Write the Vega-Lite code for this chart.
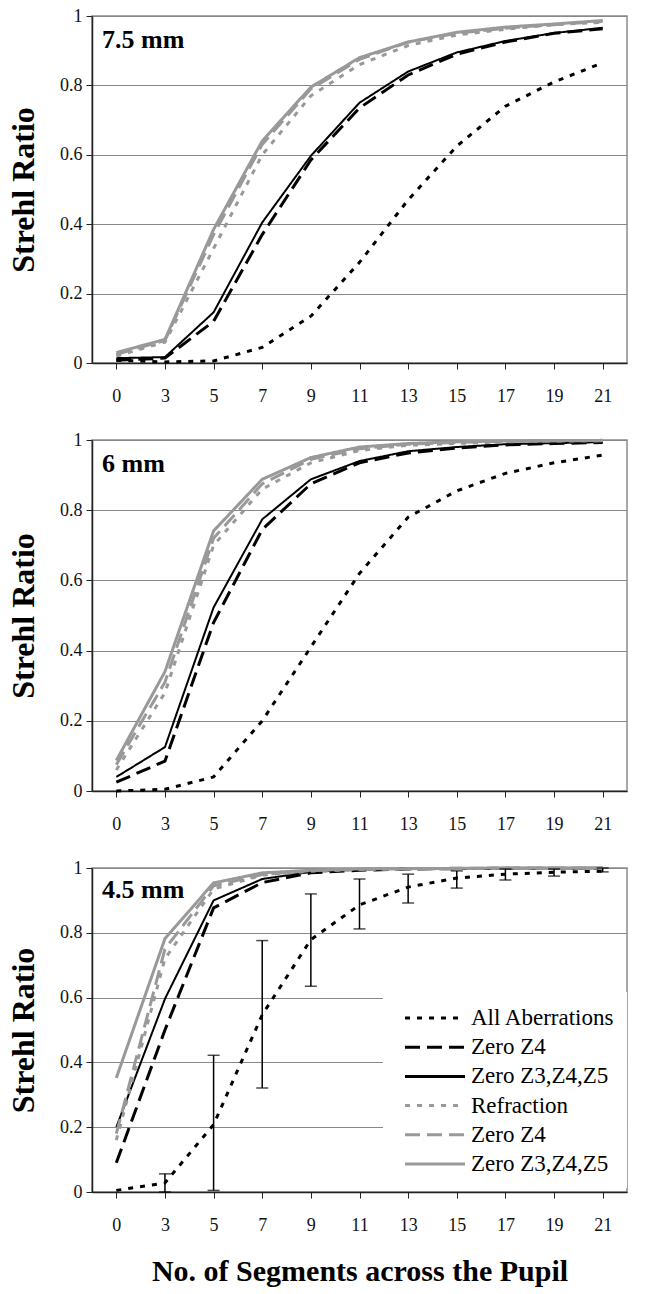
{
"$schema": "https://vega.github.io/schema/vega-lite/v6.json",
"background": "white",
"padding": {"left": 6, "top": 6, "right": 5, "bottom": 4},
"spacing": 24,
"datasets": {
"lines": [
{"p":"7.5","s":"All Aberrations","x":0,"y":0.008},{"p":"7.5","s":"All Aberrations","x":3,"y":0.003},{"p":"7.5","s":"All Aberrations","x":5,"y":0.006},{"p":"7.5","s":"All Aberrations","x":7,"y":0.045},{"p":"7.5","s":"All Aberrations","x":9,"y":0.135},{"p":"7.5","s":"All Aberrations","x":11,"y":0.29},{"p":"7.5","s":"All Aberrations","x":13,"y":0.47},{"p":"7.5","s":"All Aberrations","x":15,"y":0.625},{"p":"7.5","s":"All Aberrations","x":17,"y":0.74},{"p":"7.5","s":"All Aberrations","x":19,"y":0.81},{"p":"7.5","s":"All Aberrations","x":21,"y":0.865},
{"p":"7.5","s":"Zero Z4","x":0,"y":0.008},{"p":"7.5","s":"Zero Z4","x":3,"y":0.014},{"p":"7.5","s":"Zero Z4","x":5,"y":0.12},{"p":"7.5","s":"Zero Z4","x":7,"y":0.37},{"p":"7.5","s":"Zero Z4","x":9,"y":0.585},{"p":"7.5","s":"Zero Z4","x":11,"y":0.735},{"p":"7.5","s":"Zero Z4","x":13,"y":0.83},{"p":"7.5","s":"Zero Z4","x":15,"y":0.89},{"p":"7.5","s":"Zero Z4","x":17,"y":0.925},{"p":"7.5","s":"Zero Z4","x":19,"y":0.95},{"p":"7.5","s":"Zero Z4","x":21,"y":0.963},
{"p":"7.5","s":"Zero Z3,Z4,Z5","x":0,"y":0.014},{"p":"7.5","s":"Zero Z3,Z4,Z5","x":3,"y":0.017},{"p":"7.5","s":"Zero Z3,Z4,Z5","x":5,"y":0.146},{"p":"7.5","s":"Zero Z3,Z4,Z5","x":7,"y":0.405},{"p":"7.5","s":"Zero Z3,Z4,Z5","x":9,"y":0.597},{"p":"7.5","s":"Zero Z3,Z4,Z5","x":11,"y":0.75},{"p":"7.5","s":"Zero Z3,Z4,Z5","x":13,"y":0.84},{"p":"7.5","s":"Zero Z3,Z4,Z5","x":15,"y":0.895},{"p":"7.5","s":"Zero Z3,Z4,Z5","x":17,"y":0.928},{"p":"7.5","s":"Zero Z3,Z4,Z5","x":19,"y":0.951},{"p":"7.5","s":"Zero Z3,Z4,Z5","x":21,"y":0.966},
{"p":"7.5","s":"Refraction","x":0,"y":0.02},{"p":"7.5","s":"Refraction","x":3,"y":0.06},{"p":"7.5","s":"Refraction","x":5,"y":0.33},{"p":"7.5","s":"Refraction","x":7,"y":0.6},{"p":"7.5","s":"Refraction","x":9,"y":0.77},{"p":"7.5","s":"Refraction","x":11,"y":0.86},{"p":"7.5","s":"Refraction","x":13,"y":0.915},{"p":"7.5","s":"Refraction","x":15,"y":0.945},{"p":"7.5","s":"Refraction","x":17,"y":0.962},{"p":"7.5","s":"Refraction","x":19,"y":0.975},{"p":"7.5","s":"Refraction","x":21,"y":0.982},
{"p":"7.5","s":"Refraction Zero Z4","x":0,"y":0.025},{"p":"7.5","s":"Refraction Zero Z4","x":3,"y":0.065},{"p":"7.5","s":"Refraction Zero Z4","x":5,"y":0.37},{"p":"7.5","s":"Refraction Zero Z4","x":7,"y":0.63},{"p":"7.5","s":"Refraction Zero Z4","x":9,"y":0.79},{"p":"7.5","s":"Refraction Zero Z4","x":11,"y":0.875},{"p":"7.5","s":"Refraction Zero Z4","x":13,"y":0.925},{"p":"7.5","s":"Refraction Zero Z4","x":15,"y":0.95},{"p":"7.5","s":"Refraction Zero Z4","x":17,"y":0.965},{"p":"7.5","s":"Refraction Zero Z4","x":19,"y":0.975},{"p":"7.5","s":"Refraction Zero Z4","x":21,"y":0.985},
{"p":"7.5","s":"Refraction Zero Z3,Z4,Z5","x":0,"y":0.03},{"p":"7.5","s":"Refraction Zero Z3,Z4,Z5","x":3,"y":0.068},{"p":"7.5","s":"Refraction Zero Z3,Z4,Z5","x":5,"y":0.385},{"p":"7.5","s":"Refraction Zero Z3,Z4,Z5","x":7,"y":0.64},{"p":"7.5","s":"Refraction Zero Z3,Z4,Z5","x":9,"y":0.795},{"p":"7.5","s":"Refraction Zero Z3,Z4,Z5","x":11,"y":0.88},{"p":"7.5","s":"Refraction Zero Z3,Z4,Z5","x":13,"y":0.925},{"p":"7.5","s":"Refraction Zero Z3,Z4,Z5","x":15,"y":0.953},{"p":"7.5","s":"Refraction Zero Z3,Z4,Z5","x":17,"y":0.968},{"p":"7.5","s":"Refraction Zero Z3,Z4,Z5","x":19,"y":0.977},{"p":"7.5","s":"Refraction Zero Z3,Z4,Z5","x":21,"y":0.987},

{"p":"6","s":"All Aberrations","x":0,"y":0.0},{"p":"6","s":"All Aberrations","x":3,"y":0.005},{"p":"6","s":"All Aberrations","x":5,"y":0.04},{"p":"6","s":"All Aberrations","x":7,"y":0.2},{"p":"6","s":"All Aberrations","x":9,"y":0.41},{"p":"6","s":"All Aberrations","x":11,"y":0.62},{"p":"6","s":"All Aberrations","x":13,"y":0.78},{"p":"6","s":"All Aberrations","x":15,"y":0.855},{"p":"6","s":"All Aberrations","x":17,"y":0.905},{"p":"6","s":"All Aberrations","x":19,"y":0.935},{"p":"6","s":"All Aberrations","x":21,"y":0.957},
{"p":"6","s":"Zero Z4","x":0,"y":0.025},{"p":"6","s":"Zero Z4","x":3,"y":0.085},{"p":"6","s":"Zero Z4","x":5,"y":0.48},{"p":"6","s":"Zero Z4","x":7,"y":0.745},{"p":"6","s":"Zero Z4","x":9,"y":0.875},{"p":"6","s":"Zero Z4","x":11,"y":0.935},{"p":"6","s":"Zero Z4","x":13,"y":0.963},{"p":"6","s":"Zero Z4","x":15,"y":0.977},{"p":"6","s":"Zero Z4","x":17,"y":0.986},{"p":"6","s":"Zero Z4","x":19,"y":0.99},{"p":"6","s":"Zero Z4","x":21,"y":0.993},
{"p":"6","s":"Zero Z3,Z4,Z5","x":0,"y":0.04},{"p":"6","s":"Zero Z3,Z4,Z5","x":3,"y":0.125},{"p":"6","s":"Zero Z3,Z4,Z5","x":5,"y":0.523},{"p":"6","s":"Zero Z3,Z4,Z5","x":7,"y":0.774},{"p":"6","s":"Zero Z3,Z4,Z5","x":9,"y":0.888},{"p":"6","s":"Zero Z3,Z4,Z5","x":11,"y":0.94},{"p":"6","s":"Zero Z3,Z4,Z5","x":13,"y":0.968},{"p":"6","s":"Zero Z3,Z4,Z5","x":15,"y":0.98},{"p":"6","s":"Zero Z3,Z4,Z5","x":17,"y":0.988},{"p":"6","s":"Zero Z3,Z4,Z5","x":19,"y":0.991},{"p":"6","s":"Zero Z3,Z4,Z5","x":21,"y":0.994},
{"p":"6","s":"Refraction","x":0,"y":0.06},{"p":"6","s":"Refraction","x":3,"y":0.28},{"p":"6","s":"Refraction","x":5,"y":0.7},{"p":"6","s":"Refraction","x":7,"y":0.86},{"p":"6","s":"Refraction","x":9,"y":0.935},{"p":"6","s":"Refraction","x":11,"y":0.97},{"p":"6","s":"Refraction","x":13,"y":0.985},{"p":"6","s":"Refraction","x":15,"y":0.99},{"p":"6","s":"Refraction","x":17,"y":0.995},{"p":"6","s":"Refraction","x":19,"y":0.997},{"p":"6","s":"Refraction","x":21,"y":0.998},
{"p":"6","s":"Refraction Zero Z4","x":0,"y":0.075},{"p":"6","s":"Refraction Zero Z4","x":3,"y":0.31},{"p":"6","s":"Refraction Zero Z4","x":5,"y":0.72},{"p":"6","s":"Refraction Zero Z4","x":7,"y":0.875},{"p":"6","s":"Refraction Zero Z4","x":9,"y":0.945},{"p":"6","s":"Refraction Zero Z4","x":11,"y":0.975},{"p":"6","s":"Refraction Zero Z4","x":13,"y":0.988},{"p":"6","s":"Refraction Zero Z4","x":15,"y":0.993},{"p":"6","s":"Refraction Zero Z4","x":17,"y":0.996},{"p":"6","s":"Refraction Zero Z4","x":19,"y":0.998},{"p":"6","s":"Refraction Zero Z4","x":21,"y":0.998},
{"p":"6","s":"Refraction Zero Z3,Z4,Z5","x":0,"y":0.087},{"p":"6","s":"Refraction Zero Z3,Z4,Z5","x":3,"y":0.34},{"p":"6","s":"Refraction Zero Z3,Z4,Z5","x":5,"y":0.741},{"p":"6","s":"Refraction Zero Z3,Z4,Z5","x":7,"y":0.888},{"p":"6","s":"Refraction Zero Z3,Z4,Z5","x":9,"y":0.95},{"p":"6","s":"Refraction Zero Z3,Z4,Z5","x":11,"y":0.98},{"p":"6","s":"Refraction Zero Z3,Z4,Z5","x":13,"y":0.99},{"p":"6","s":"Refraction Zero Z3,Z4,Z5","x":15,"y":0.995},{"p":"6","s":"Refraction Zero Z3,Z4,Z5","x":17,"y":0.997},{"p":"6","s":"Refraction Zero Z3,Z4,Z5","x":19,"y":0.998},{"p":"6","s":"Refraction Zero Z3,Z4,Z5","x":21,"y":0.999},

{"p":"4.5","s":"All Aberrations","x":0,"y":0.005},{"p":"4.5","s":"All Aberrations","x":3,"y":0.028},{"p":"4.5","s":"All Aberrations","x":5,"y":0.208},{"p":"4.5","s":"All Aberrations","x":7,"y":0.547},{"p":"4.5","s":"All Aberrations","x":9,"y":0.779},{"p":"4.5","s":"All Aberrations","x":11,"y":0.886},{"p":"4.5","s":"All Aberrations","x":13,"y":0.941},{"p":"4.5","s":"All Aberrations","x":15,"y":0.969},{"p":"4.5","s":"All Aberrations","x":17,"y":0.981},{"p":"4.5","s":"All Aberrations","x":19,"y":0.987},{"p":"4.5","s":"All Aberrations","x":21,"y":0.99},
{"p":"4.5","s":"Zero Z4","x":0,"y":0.09},{"p":"4.5","s":"Zero Z4","x":3,"y":0.5},{"p":"4.5","s":"Zero Z4","x":5,"y":0.877},{"p":"4.5","s":"Zero Z4","x":7,"y":0.955},{"p":"4.5","s":"Zero Z4","x":9,"y":0.985},{"p":"4.5","s":"Zero Z4","x":11,"y":0.993},{"p":"4.5","s":"Zero Z4","x":13,"y":0.997},{"p":"4.5","s":"Zero Z4","x":15,"y":0.998},{"p":"4.5","s":"Zero Z4","x":17,"y":0.999},{"p":"4.5","s":"Zero Z4","x":19,"y":0.999},{"p":"4.5","s":"Zero Z4","x":21,"y":0.999},
{"p":"4.5","s":"Zero Z3,Z4,Z5","x":0,"y":0.2},{"p":"4.5","s":"Zero Z3,Z4,Z5","x":3,"y":0.596},{"p":"4.5","s":"Zero Z3,Z4,Z5","x":5,"y":0.9},{"p":"4.5","s":"Zero Z3,Z4,Z5","x":7,"y":0.966},{"p":"4.5","s":"Zero Z3,Z4,Z5","x":9,"y":0.988},{"p":"4.5","s":"Zero Z3,Z4,Z5","x":11,"y":0.995},{"p":"4.5","s":"Zero Z3,Z4,Z5","x":13,"y":0.998},{"p":"4.5","s":"Zero Z3,Z4,Z5","x":15,"y":0.999},{"p":"4.5","s":"Zero Z3,Z4,Z5","x":17,"y":0.999},{"p":"4.5","s":"Zero Z3,Z4,Z5","x":19,"y":0.999},{"p":"4.5","s":"Zero Z3,Z4,Z5","x":21,"y":1.0},
{"p":"4.5","s":"Refraction","x":0,"y":0.16},{"p":"4.5","s":"Refraction","x":3,"y":0.72},{"p":"4.5","s":"Refraction","x":5,"y":0.935},{"p":"4.5","s":"Refraction","x":7,"y":0.978},{"p":"4.5","s":"Refraction","x":9,"y":0.99},{"p":"4.5","s":"Refraction","x":11,"y":0.995},{"p":"4.5","s":"Refraction","x":13,"y":0.997},{"p":"4.5","s":"Refraction","x":15,"y":0.998},{"p":"4.5","s":"Refraction","x":17,"y":0.999},{"p":"4.5","s":"Refraction","x":19,"y":0.999},{"p":"4.5","s":"Refraction","x":21,"y":0.999},
{"p":"4.5","s":"Refraction Zero Z4","x":0,"y":0.18},{"p":"4.5","s":"Refraction Zero Z4","x":3,"y":0.75},{"p":"4.5","s":"Refraction Zero Z4","x":5,"y":0.945},{"p":"4.5","s":"Refraction Zero Z4","x":7,"y":0.98},{"p":"4.5","s":"Refraction Zero Z4","x":9,"y":0.992},{"p":"4.5","s":"Refraction Zero Z4","x":11,"y":0.996},{"p":"4.5","s":"Refraction Zero Z4","x":13,"y":0.998},{"p":"4.5","s":"Refraction Zero Z4","x":15,"y":0.999},{"p":"4.5","s":"Refraction Zero Z4","x":17,"y":0.999},{"p":"4.5","s":"Refraction Zero Z4","x":19,"y":0.999},{"p":"4.5","s":"Refraction Zero Z4","x":21,"y":1.0},
{"p":"4.5","s":"Refraction Zero Z3,Z4,Z5","x":0,"y":0.352},{"p":"4.5","s":"Refraction Zero Z3,Z4,Z5","x":3,"y":0.782},{"p":"4.5","s":"Refraction Zero Z3,Z4,Z5","x":5,"y":0.954},{"p":"4.5","s":"Refraction Zero Z3,Z4,Z5","x":7,"y":0.985},{"p":"4.5","s":"Refraction Zero Z3,Z4,Z5","x":9,"y":0.993},{"p":"4.5","s":"Refraction Zero Z3,Z4,Z5","x":11,"y":0.997},{"p":"4.5","s":"Refraction Zero Z3,Z4,Z5","x":13,"y":0.998},{"p":"4.5","s":"Refraction Zero Z3,Z4,Z5","x":15,"y":0.999},{"p":"4.5","s":"Refraction Zero Z3,Z4,Z5","x":17,"y":1.0},{"p":"4.5","s":"Refraction Zero Z3,Z4,Z5","x":19,"y":1.0},{"p":"4.5","s":"Refraction Zero Z3,Z4,Z5","x":21,"y":1.0}
],
"err": [
{"x":3,"lo":0.0,"hi":0.056},{"x":5,"lo":0.005,"hi":0.422},{"x":7,"lo":0.321,"hi":0.776},{"x":9,"lo":0.635,"hi":0.92},{"x":11,"lo":0.812,"hi":0.966},{"x":13,"lo":0.892,"hi":0.981},{"x":15,"lo":0.938,"hi":0.991},{"x":17,"lo":0.963,"hi":0.997},{"x":19,"lo":0.975,"hi":0.997},{"x":21,"lo":0.988,"hi":1.0}
]
},
"resolve": {"scale": {"color": "independent", "strokeDash": "independent"}, "legend": {"color": "independent", "strokeDash": "independent"}},
"vconcat": [
{
"width": 535, "height": 347,
"title": {"text": "7.5 mm", "anchor": "start", "frame": "group", "orient": "top", "baseline": "alphabetic", "offset": -67, "dx": 10, "font": "Liberation Serif", "fontSize": 26, "fontWeight": "bold", "color": "#000"},
"data": {"name": "lines"},
"transform": [{"filter": "datum.p == '7.5'"}],
"mark": {"type": "line", "strokeCap": "butt"},
"encoding": {
"x": {"field": "x", "type": "ordinal", "scale": {"type": "point", "padding": 0.5}, "axis": {"title": null, "labelAngle": 0, "labelPadding": 18, "tickSize": 6, "grid": false}},
"y": {"field": "y", "type": "quantitative", "scale": {"domain": [0, 1], "nice": false}, "axis": {"title": "Strehl Ratio", "values": [0, 0.2, 0.4, 0.6, 0.8, 1], "format": "~g", "tickSize": 6, "labelPadding": 4, "titlePadding": 19}},
"color": {"field": "s", "type": "nominal", "scale": {"domain": ["All Aberrations", "Zero Z4", "Zero Z3,Z4,Z5", "Refraction", "Refraction Zero Z4", "Refraction Zero Z3,Z4,Z5"], "range": ["#000000", "#000000", "#000000", "#999999", "#999999", "#999999"]}, "legend": null},
"strokeDash": {"field": "s", "type": "nominal", "scale": {"domain": ["All Aberrations", "Zero Z4", "Zero Z3,Z4,Z5", "Refraction", "Refraction Zero Z4", "Refraction Zero Z3,Z4,Z5"], "range": [[5, 7], [15, 7], [1, 0], [5, 7], [15, 7], [1, 0]]}, "legend": null},
"strokeWidth": {"condition": {"test": "datum.s == 'Zero Z3,Z4,Z5'", "value": 2}, "value": 3}
}
},
{
"width": 535, "height": 351,
"title": {"text": "6 mm", "anchor": "start", "frame": "group", "orient": "top", "baseline": "alphabetic", "offset": -67, "dx": 10, "font": "Liberation Serif", "fontSize": 26, "fontWeight": "bold", "color": "#000"},
"data": {"name": "lines"},
"transform": [{"filter": "datum.p == '6'"}],
"mark": {"type": "line", "strokeCap": "butt"},
"encoding": {
"x": {"field": "x", "type": "ordinal", "scale": {"type": "point", "padding": 0.5}, "axis": {"title": null, "labelAngle": 0, "labelPadding": 18, "tickSize": 6, "grid": false}},
"y": {"field": "y", "type": "quantitative", "scale": {"domain": [0, 1], "nice": false}, "axis": {"title": "Strehl Ratio", "values": [0, 0.2, 0.4, 0.6, 0.8, 1], "format": "~g", "tickSize": 6, "labelPadding": 4, "titlePadding": 19}},
"color": {"field": "s", "type": "nominal", "scale": {"domain": ["All Aberrations", "Zero Z4", "Zero Z3,Z4,Z5", "Refraction", "Refraction Zero Z4", "Refraction Zero Z3,Z4,Z5"], "range": ["#000000", "#000000", "#000000", "#999999", "#999999", "#999999"]}, "legend": null},
"strokeDash": {"field": "s", "type": "nominal", "scale": {"domain": ["All Aberrations", "Zero Z4", "Zero Z3,Z4,Z5", "Refraction", "Refraction Zero Z4", "Refraction Zero Z3,Z4,Z5"], "range": [[5, 7], [15, 7], [1, 0], [5, 7], [15, 7], [1, 0]]}, "legend": null},
"strokeWidth": {"condition": {"test": "datum.s == 'Zero Z3,Z4,Z5'", "value": 2}, "value": 3}
}
},
{
"width": 535, "height": 324,
"title": {"text": "4.5 mm", "anchor": "start", "frame": "group", "orient": "top", "baseline": "alphabetic", "offset": -65, "dx": 10, "font": "Liberation Serif", "fontSize": 26, "fontWeight": "bold", "color": "#000"},
"layer": [
{
"data": {"name": "lines"},
"transform": [{"filter": "datum.p == '4.5'"}],
"mark": {"type": "line", "strokeCap": "butt"},
"encoding": {
"x": {"field": "x", "type": "ordinal", "scale": {"type": "point", "padding": 0.5}, "axis": {"title": "No. of Segments across the Pupil", "titleFontSize": 30, "titlePadding": 22, "labelAngle": 0, "labelPadding": 18, "tickSize": 6, "grid": false}},
"y": {"field": "y", "type": "quantitative", "scale": {"domain": [0, 1], "nice": false}, "axis": {"title": "Strehl Ratio", "values": [0, 0.2, 0.4, 0.6, 0.8, 1], "format": "~g", "tickSize": 6, "labelPadding": 4, "titlePadding": 19}},
"color": {"field": "s", "type": "nominal", "scale": {"domain": ["All Aberrations", "Zero Z4", "Zero Z3,Z4,Z5", "Refraction", "Refraction Zero Z4", "Refraction Zero Z3,Z4,Z5"], "range": ["#000000", "#000000", "#000000", "#999999", "#999999", "#999999"]},
 "legend": {"orient": "none", "legendX": 291, "legendY": 124, "title": null, "fillColor": "white", "padding": 12, "labelFontSize": 23, "labelFont": "Liberation Serif", "labelColor": "#000", "symbolSize": 625, "symbolStrokeWidth": 3, "symbolType": "M-2.4,0H2.4", "symbolOffset": 26, "rowPadding": 3.2, "labelOffset": 22, "labelLimit": 300, "labelExpr": "replace(datum.label, 'Refraction Zero', 'Zero')"}},
"strokeDash": {"field": "s", "type": "nominal", "scale": {"domain": ["All Aberrations", "Zero Z4", "Zero Z3,Z4,Z5", "Refraction", "Refraction Zero Z4", "Refraction Zero Z3,Z4,Z5"], "range": [[5, 7], [15, 7], [1, 0], [5, 7], [15, 7], [1, 0]]},
 "legend": {"orient": "none", "legendX": 291, "legendY": 124, "title": null, "fillColor": "white", "padding": 12, "labelFontSize": 23, "labelFont": "Liberation Serif", "labelColor": "#000", "symbolSize": 625, "symbolStrokeWidth": 3, "symbolType": "M-2.4,0H2.4", "symbolOffset": 26, "rowPadding": 3.2, "labelOffset": 22, "labelLimit": 300, "labelExpr": "replace(datum.label, 'Refraction Zero', 'Zero')"}},
"strokeWidth": {"condition": {"test": "datum.s == 'Zero Z3,Z4,Z5'", "value": 2}, "value": 3}
}
},
{
"data": {"name": "err"},
"mark": {"type": "errorbar", "color": "#000", "thickness": 1.5, "ticks": {"size": 12}},
"encoding": {
"x": {"field": "x", "type": "ordinal", "title": "No. of Segments across the Pupil"},
"y": {"field": "lo", "type": "quantitative", "title": "Strehl Ratio"},
"y2": {"field": "hi"}
}
}
]
}
],
"config": {
"font": "Liberation Serif",
"view": {"stroke": "#8c8c8c", "strokeWidth": 1.5},
"axis": {"labelFont": "Liberation Serif", "labelFontSize": 18, "labelColor": "#111", "domainColor": "#222", "domainWidth": 1.5, "tickColor": "#222", "tickWidth": 1, "gridColor": "#888888", "gridWidth": 1, "titleFont": "Liberation Serif", "titleFontWeight": "bold", "titleFontSize": 32, "titleColor": "#000"}
}
}
